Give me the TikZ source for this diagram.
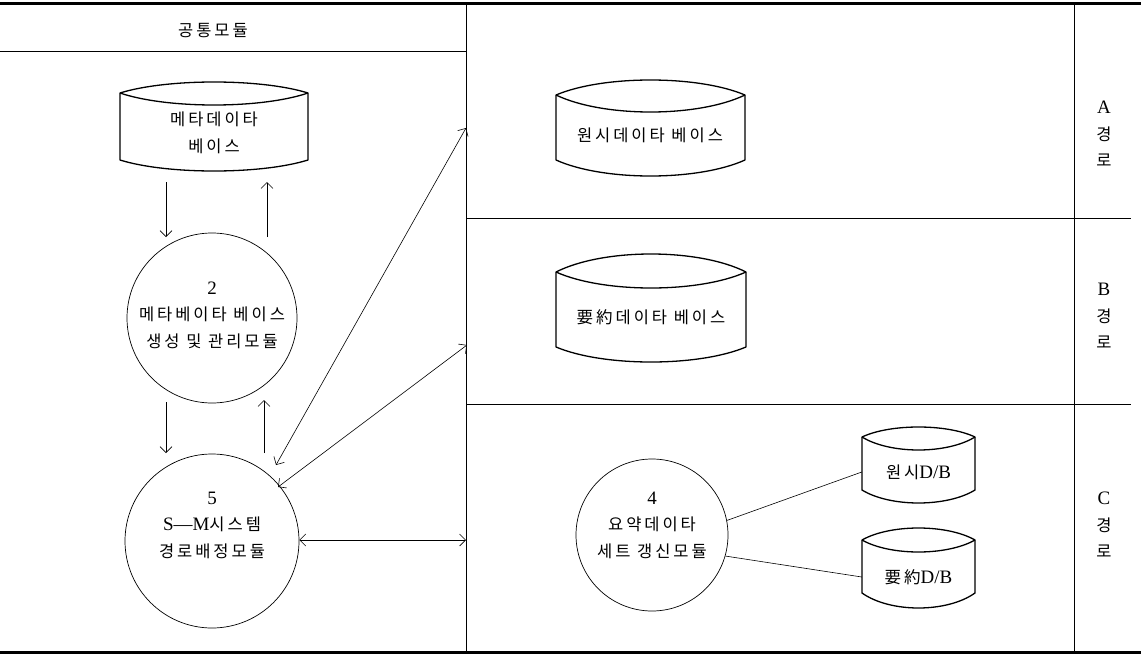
\documentclass[tikz,border=0pt]{standalone}
\usepackage{fontspec}
\setmainfont{Liberation Serif}[Scale=1.15]
\newfontfamily\kr[LetterSpace=18]{Noto Sans CJK KR}
\usetikzlibrary{arrows.meta,calc}
\newcommand\lenscyl[7]{%
  \draw[cylline] (#1,#4) .. controls ({#1+0.25*(#2-#1)},{#4+4/3*(#3-#4)}) and ({#2-0.25*(#2-#1)},{#4+4/3*(#3-#4)}) .. (#2,#4)
    -- (#2,#6) .. controls ({#2-0.25*(#2-#1)},{#6+4/3*(#7-#6)}) and ({#1+0.25*(#2-#1)},{#6+4/3*(#7-#6)}) .. (#1,#6) -- cycle;
  \draw[cylline] (#1,#4) .. controls ({#1+0.25*(#2-#1)},{#4+4/3*(#5-#4)}) and ({#2-0.25*(#2-#1)},{#4+4/3*(#5-#4)}) .. (#2,#4);
}
\begin{document}
\begin{tikzpicture}[x=1pt,y=-1pt,
 frame/.style={line width=0.8pt},
 thickframe/.style={line width=3pt},
 cylline/.style={line width=1.3pt, line join=round},
 proc/.style={circle, draw, line width=0.7pt, inner sep=0pt},
 arr/.style={-{Straight Barb[length=6pt,width=12pt]}, line width=0.6pt},
 darr/.style={{Straight Barb[length=6pt,width=12pt]}-{Straight Barb[length=6pt,width=12pt]}, line width=0.6pt},
 link/.style={line width=0.6pt},
 lbl/.style={font=\fontsize{16.5}{26.5}\selectfont, align=center, inner sep=0pt},
 cylbox/.style={lbl, draw=none, minimum width=#1},
]
\useasboundingbox (0,0) rectangle (1141,656);
% frame
\draw[thickframe] (0,3) -- (1141,3);
\draw[thickframe] (0,652) -- (1141,652);
\draw[frame] (0,51) -- (466,51);
\draw[frame] (466,3) -- (466,652);
\draw[frame] (1074,3) -- (1074,652);
\draw[frame] (466,218) -- (1131,218);
\draw[frame] (466,404) -- (1131,404);
% header and route labels
\node[lbl] (hdr) at (213,31) {\kr 공통모듈};
\node[lbl] (ra) at (1104,134) {A\\{\kr 경}\\{\kr 로}};
\node[lbl] (rb) at (1104,316) {B\\{\kr 경}\\{\kr 로}};
\node[lbl] (rc) at (1104,525) {C\\{\kr 경}\\{\kr 로}};
% cylinders
\lenscyl{120}{308}{82}{93}{105}{160}{171}
\node[cylbox=188pt] (meta) at (214,133) {\kr 메타데이타\\\kr 베이스};
\lenscyl{556}{745}{80}{95}{112}{160}{176}
\node[cylbox=189pt] (rawdb) at (650,135) {\kr 원시데이타 베이스};
\lenscyl{556}{746}{254}{272}{288}{347}{362}
\node[cylbox=190pt] (sumdb) at (651,317) {\kr 要約데이타 베이스};
\lenscyl{862}{975}{427}{437}{450}{490}{503}
\node[cylbox=113pt] (db1) at (918.5,472) {{\kr 원시}D/B};
\lenscyl{862}{975}{528}{540}{552}{593}{608}
\node[cylbox=113pt] (db2) at (918.5,577) {{\kr 要約}D/B};
% processes
\node[proc, minimum size=170pt] (p2) at (212,318) {};
\node[lbl] (t2) at (212,315) {2\\{\kr 메타베이타 베이스}\\{\kr 생성 및 관리모듈}};
\node[proc, minimum size=174pt] (p5) at (212,541) {};
\node[lbl] (t5) at (212,525) {5\\S\textemdash M{\kr 시스템}\\{\kr 경로배정모듈}};
\node[proc, minimum size=152pt] (p4) at (652,535) {};
\node[lbl] (t4) at (652,525) {4\\{\kr 요약데이타}\\{\kr 세트 갱신모듈}};
% arrows
\coordinate (m1) at (166,182); \coordinate (m2) at (166,237);
\coordinate (m3) at (267,237); \coordinate (m4) at (267,182);
\draw[arr] (m1) -- (m2);
\draw[arr] (m3) -- (m4);
\coordinate (n1) at (166,402); \coordinate (n2) at (166,453);
\coordinate (n3) at (264,453); \coordinate (n4) at (264,400);
\draw[arr] (n1) -- (n2);
\draw[arr] (n3) -- (n4);
\coordinate (qa) at (276,465); \coordinate (qb) at (466,128);
\coordinate (qc) at (278,487); \coordinate (qd) at (467,345);
\draw[darr] (qa) -- (qb);
\draw[darr] (qc) -- (qd);
\draw[darr] (p5.east |- 0,540) -- (466,540);
% links
\draw[link] (p4.11) -- (db1.west);
\draw[link] (p4.-16) -- (db2.west);
\end{tikzpicture}
\end{document}
